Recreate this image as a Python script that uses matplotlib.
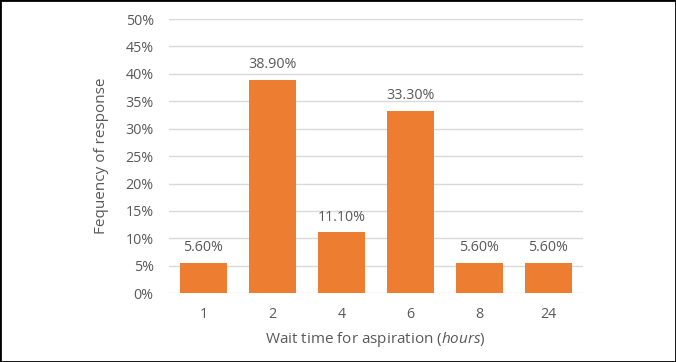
import matplotlib
matplotlib.use('Agg')
import matplotlib.pyplot as plt
from matplotlib.ticker import MultipleLocator, FuncFormatter

plt.rcParams['font.family'] = 'Open Sans'
plt.rcParams['mathtext.fontset'] = 'custom'
plt.rcParams['mathtext.it'] = 'Open Sans:italic'
plt.rcParams['mathtext.rm'] = 'Open Sans'

hours = ['1', '2', '4', '6', '8', '24']
freq = [5.6, 38.9, 11.1, 33.3, 5.6, 5.6]
bar_labels = ['5.60%', '38.90%', '11.10%', '33.30%', '5.60%', '5.60%']

text_color = '#595959'
bar_color = '#ED7D31'

fig = plt.figure(figsize=(6.76, 3.62), dpi=100)
ax = fig.add_axes([0.25, 0.19, 0.612, 0.7575])

x = range(len(hours))
bars = ax.bar(x, freq, width=0.68, color=bar_color, zorder=3)
for b, lab in zip(bars, bar_labels):
    ax.text(b.get_x() + b.get_width() / 2, b.get_height() + 1.4, lab,
            ha='center', va='bottom', fontsize=10.3, color=text_color)

ax.set_xlim(-0.5, len(hours) - 0.5)
ax.set_ylim(0, 50)
ax.yaxis.set_major_locator(MultipleLocator(5))
ax.yaxis.set_major_formatter(FuncFormatter(lambda v, p: f'{v:.0f}%'))
ax.set_xticks(list(x))
ax.set_xticklabels(hours)
ax.grid(axis='y', color='#d9d9d9', linewidth=1, zorder=0)
for s in ax.spines.values():
    s.set_visible(False)
ax.tick_params(length=0, labelsize=10.3, colors=text_color)
ax.tick_params(axis='y', pad=11)
ax.tick_params(axis='x', pad=10)

ax.set_xlabel(r'Wait time for aspiration ($\mathit{hours}$)', fontsize=11,
              color=text_color, labelpad=6)
ax.set_ylabel('Fequency of response', fontsize=11, color=text_color, labelpad=12)

fig.patches.append(plt.Rectangle((0, 0), 1, 1, transform=fig.transFigure,
                                 fill=False, edgecolor='black', linewidth=2))

fig.savefig('out.png', dpi=100)
